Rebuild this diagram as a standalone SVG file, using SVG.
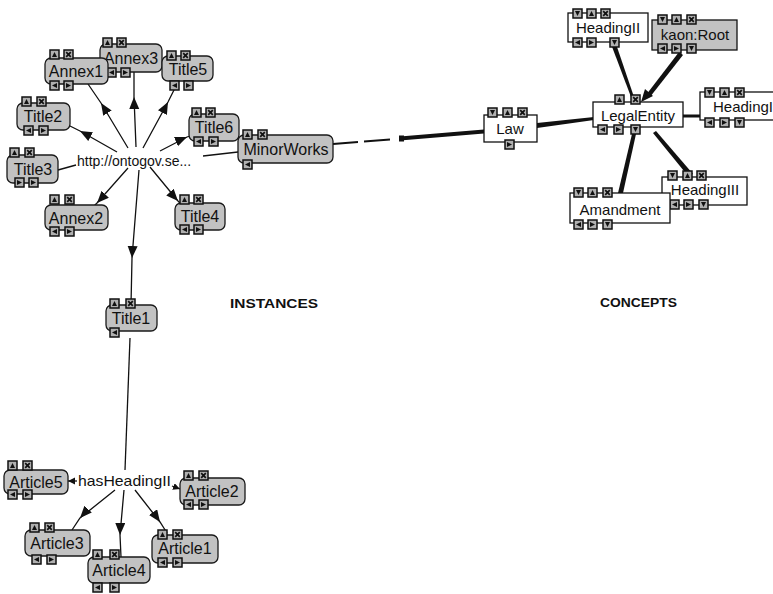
<svg xmlns="http://www.w3.org/2000/svg" width="773" height="594" viewBox="0 0 773 594">
<style>
.bg{fill:#ffffff}
.inst{fill:#c2c2c2;stroke:#1a1a1a;stroke-width:1.3}
.conc{fill:#ffffff;stroke:#111;stroke-width:1.3}
.concg{fill:#c2c2c2;stroke:#111;stroke-width:1.3}
.lbl{font-family:"Liberation Sans",Arial,sans-serif;font-size:16px;fill:#111;text-anchor:middle}
.clbl{font-family:"Liberation Sans",Arial,sans-serif;font-size:15px;fill:#111;text-anchor:middle}
.free{font-family:"Liberation Sans",Arial,sans-serif;font-size:14px;fill:#111}
.title{font-family:"Liberation Sans",Arial,sans-serif;font-size:12px;font-weight:bold;fill:#111}
.edge{stroke:#111;stroke-width:1.3;fill:none}
.thick{stroke:#111;stroke-width:3;fill:none;stroke-linecap:round}
.ib{fill:#b0b0b0;stroke:#111;stroke-width:1.5}
.ig{fill:#111}
</style>
<defs>
<marker id="ah" markerUnits="userSpaceOnUse" markerWidth="13" markerHeight="11" refX="12" refY="5" orient="auto">
<path d="M0,0 L12,5 L0,10 z" fill="#111"/>
</marker>
<marker id="ahs" markerUnits="userSpaceOnUse" markerWidth="8" markerHeight="8" refX="7" refY="3.5" orient="auto">
<path d="M0,0 L7,3.5 L0,7 z" fill="#111"/>
</marker>
<symbol id="i-up" overflow="visible"><rect class="ib" x="0" y="0" width="9" height="9"/><path class="ig" d="M2,7 L4.5,2 L7,7 z"/></symbol>
<symbol id="i-x" overflow="visible"><rect class="ib" x="0" y="0" width="9" height="9"/><path d="M2.2,2.2 L6.8,6.8 M6.8,2.2 L2.2,6.8" stroke="#111" stroke-width="1.7"/></symbol>
<symbol id="i-l" overflow="visible"><rect class="ib" x="0" y="0" width="9" height="9"/><path class="ig" d="M7,2 L2,4.5 L7,7 z"/></symbol>
<symbol id="i-r" overflow="visible"><rect class="ib" x="0" y="0" width="9" height="9"/><path class="ig" d="M2,2 L7,4.5 L2,7 z"/></symbol>
<symbol id="i-dn" overflow="visible"><rect class="ib" x="0" y="0" width="9" height="9"/><path class="ig" d="M2,2 L4.5,7 L7,2 z"/></symbol>
</defs>
<rect class="bg" x="0" y="0" width="773" height="594"/>

<g id="connectors">
<!-- instance hub -->
<polyline class="edge" points="128,148 101,103 88,84" marker-mid="url(#ah)"/>
<polyline class="edge" points="136,147 134,97 134,72" marker-mid="url(#ah)"/>
<polyline class="edge" points="143,148 168,102 178,82" marker-mid="url(#ah)"/>
<polyline class="edge" points="117,152 80,131 68,125" marker-mid="url(#ah)"/>
<polyline class="edge" points="160,151 187,137 190,136" marker-mid="url(#ah)"/>
<line class="edge" x1="58" y1="170" x2="76" y2="165"/>
<line class="edge" x1="203" y1="156" x2="238" y2="152"/>
<polyline class="edge" points="128,168 97,203 93,207" marker-mid="url(#ah)"/>
<polyline class="edge" points="150,167 178,201 180,203" marker-mid="url(#ah)"/>
<polyline class="edge" points="139,170 132,258 131,305" marker-mid="url(#ah)"/>
<line class="edge" x1="130" y1="338" x2="125" y2="470"/>
<!-- hasHeadingII -->
<line class="edge" x1="77" y1="481" x2="68" y2="481" marker-end="url(#ahs)"/>
<line class="edge" x1="172" y1="486" x2="180" y2="489" marker-end="url(#ahs)"/>
<polyline class="edge" points="115,490 80,518 72,530" marker-mid="url(#ah)"/>
<polyline class="edge" points="124,490 120,535 121,557" marker-mid="url(#ah)"/>
<polyline class="edge" points="135,490 160,522 167,533" marker-mid="url(#ah)"/>
<!-- MinorWorks to Law -->
<path d="M333,144 L358,142 M364,141.5 L390,139.5" stroke="#111" stroke-width="1.8" fill="none"/>
<path d="M400,136.5 L484,129.5 L484,133.5 L400,140.5 z" fill="#111"/>
<rect x="399" y="135.5" width="5" height="6" fill="#111"/>
<!-- concepts -->
<path d="M537,123 L594,117 L594,120 L537,128 z" fill="#111"/>
<path d="M611,44 L616,44 L634,97 L631,97 z" fill="#111"/>
<path d="M679,52 L683,55 L650,97 L646,95 z" fill="#111"/>
<path d="M641,102 L645,89 L653,96 z" fill="#111"/>
<line class="thick" x1="683" y1="116" x2="700" y2="116"/>
<path d="M632,134 L636,134 L623,193 L618,193 z" fill="#111"/>
<path d="M653,133 L656,131 L693,174 L688,176 z" fill="#111"/>
</g>

<g id="node-annex3">
<rect class="inst" x="100" y="44" width="62" height="28" rx="6"/>
<use href="#i-up" x="103" y="38"/><use href="#i-x" x="117" y="38"/>
<use href="#i-l" x="107" y="68"/><use href="#i-r" x="121" y="68"/>
<text class="lbl" x="131" y="64">Annex3</text>
</g>
<g id="node-annex1">
<rect class="inst" x="45" y="58" width="63" height="26" rx="6"/>
<use href="#i-up" x="50" y="50"/><use href="#i-x" x="64" y="50"/>
<use href="#i-l" x="50" y="81"/><use href="#i-r" x="64" y="81"/>
<text class="lbl" x="76" y="77">Annex1</text>
</g>
<g id="node-title5">
<rect class="inst" x="162" y="56" width="51" height="25" rx="6"/>
<use href="#i-up" x="167" y="51"/><use href="#i-x" x="181" y="51"/>
<use href="#i-l" x="170" y="81"/><use href="#i-r" x="184" y="81"/>
<text class="lbl" x="188" y="75">Title5</text>
</g>
<g id="node-title2">
<rect class="inst" x="17" y="103" width="53" height="27" rx="6"/>
<use href="#i-up" x="22" y="97"/><use href="#i-x" x="37" y="97"/>
<use href="#i-l" x="24" y="126"/><use href="#i-r" x="39" y="126"/>
<text class="lbl" x="43" y="122">Title2</text>
</g>
<g id="node-title3">
<rect class="inst" x="7" y="155" width="51" height="28" rx="6"/>
<use href="#i-up" x="10" y="148"/><use href="#i-x" x="25" y="148"/>
<use href="#i-r" x="15" y="178"/><use href="#i-r" x="29" y="178"/>
<text class="lbl" x="33" y="175">Title3</text>
</g>
<g id="node-title6">
<rect class="inst" x="189" y="114" width="50" height="27" rx="6"/>
<use href="#i-up" x="192" y="108"/><use href="#i-x" x="206" y="108"/>
<use href="#i-l" x="194" y="137"/><use href="#i-r" x="209" y="137"/>
<text class="lbl" x="214" y="133">Title6</text>
</g>
<g id="node-minorworks">
<rect class="inst" x="238" y="135" width="95" height="28" rx="6"/>
<use href="#i-up" x="243" y="130"/><use href="#i-x" x="258" y="130"/>
<use href="#i-l" x="243" y="160"/>
<text class="lbl" x="286" y="155">MinorWorks</text>
</g>
<g id="node-annex2">
<rect class="inst" x="45" y="205" width="63" height="25" rx="6"/>
<use href="#i-up" x="50" y="195"/><use href="#i-x" x="65" y="195"/>
<use href="#i-l" x="50" y="227"/><use href="#i-r" x="65" y="227"/>
<text class="lbl" x="76" y="224">Annex2</text>
</g>
<g id="node-title4">
<rect class="inst" x="175" y="203" width="50" height="27" rx="6"/>
<use href="#i-up" x="180" y="195"/><use href="#i-x" x="194" y="195"/>
<use href="#i-l" x="180" y="225"/><use href="#i-r" x="194" y="225"/>
<text class="lbl" x="200" y="222">Title4</text>
</g>
<g id="node-http">
<text class="free" x="77" y="166">http://ontogov.se...</text>
</g>
<g id="node-title1">
<rect class="inst" x="106" y="305" width="51" height="26" rx="6"/>
<use href="#i-up" x="110" y="299"/><use href="#i-x" x="126" y="299"/>
<use href="#i-l" x="110" y="328"/>
<text class="lbl" x="131" y="324">Title1</text>
</g>
<g id="node-hasheading">
<text class="free" x="78" y="486" style="font-size:15px" textLength="93" lengthAdjust="spacingAndGlyphs">hasHeadingII</text>
</g>
<g id="node-article5">
<rect class="inst" x="4" y="470" width="64" height="24" rx="6"/>
<use href="#i-up" x="8" y="461"/><use href="#i-x" x="23" y="461"/>
<use href="#i-l" x="8" y="490"/><use href="#i-r" x="23" y="490"/>
<text class="lbl" x="36" y="488">Article5</text>
</g>
<g id="node-article2">
<rect class="inst" x="180" y="478" width="65" height="27" rx="6"/>
<use href="#i-up" x="184" y="471"/><use href="#i-x" x="199" y="471"/>
<use href="#i-l" x="184" y="500"/><use href="#i-r" x="199" y="500"/>
<text class="lbl" x="212" y="497">Article2</text>
</g>
<g id="node-article3">
<rect class="inst" x="25" y="530" width="65" height="26" rx="6"/>
<use href="#i-up" x="30" y="523"/><use href="#i-x" x="45" y="523"/>
<use href="#i-l" x="32" y="555"/><use href="#i-r" x="47" y="555"/>
<text class="lbl" x="57" y="549">Article3</text>
</g>
<g id="node-article4">
<rect class="inst" x="88" y="557" width="62" height="26" rx="6"/>
<use href="#i-up" x="93" y="550"/><use href="#i-x" x="110" y="550"/>
<use href="#i-l" x="93" y="583"/><use href="#i-r" x="110" y="583"/>
<text class="lbl" x="119" y="576">Article4</text>
</g>
<g id="node-article1">
<rect class="inst" x="152" y="535" width="66" height="28" rx="6"/>
<use href="#i-up" x="158" y="530"/><use href="#i-x" x="173" y="530"/>
<use href="#i-l" x="158" y="558"/><use href="#i-r" x="173" y="558"/>
<text class="lbl" x="185" y="554">Article1</text>
</g>

<g id="node-headingii">
<rect class="conc" x="568" y="13" width="80" height="29"/>
<use href="#i-dn" x="573" y="9"/><use href="#i-up" x="587" y="9"/><use href="#i-x" x="601" y="9"/>
<use href="#i-l" x="573" y="38"/><use href="#i-r" x="587" y="38"/><use href="#i-dn" x="610" y="38"/>
<text class="clbl" x="608" y="33">HeadingII</text>
</g>
<g id="node-kaonroot">
<rect class="concg" x="652" y="20" width="85" height="30"/>
<use href="#i-dn" x="658" y="15"/><use href="#i-up" x="672" y="15"/><use href="#i-x" x="687" y="15"/>
<use href="#i-l" x="658" y="44"/><use href="#i-r" x="672" y="44"/><use href="#i-dn" x="687" y="44"/>
<text class="clbl" x="695" y="40">kaon:Root</text>
</g>
<g id="node-law">
<rect class="conc" x="484" y="115" width="53" height="27"/>
<use href="#i-dn" x="488" y="108"/><use href="#i-up" x="503" y="108"/><use href="#i-x" x="518" y="108"/>
<use href="#i-r" x="505" y="140"/>
<text class="clbl" x="510" y="134">Law</text>
</g>
<g id="node-legalentity">
<rect class="conc" x="593" y="102" width="90" height="25"/>
<use href="#i-up" x="615" y="95"/><use href="#i-x" x="631" y="95"/>
<use href="#i-l" x="598" y="125"/><use href="#i-r" x="614" y="125"/><use href="#i-dn" x="631" y="125"/>
<text class="clbl" x="638" y="121">LegalEntity</text>
</g>
<g id="node-headingi">
<rect class="conc" x="700" y="92" width="80" height="28"/>
<use href="#i-dn" x="705" y="88"/><use href="#i-up" x="720" y="88"/><use href="#i-x" x="735" y="88"/>
<use href="#i-l" x="705" y="118"/><use href="#i-r" x="720" y="118"/><use href="#i-dn" x="735" y="118"/>
<text class="clbl" x="743" y="112">HeadingI</text>
</g>
<g id="node-headingiii">
<rect class="conc" x="662" y="177" width="85" height="28"/>
<use href="#i-dn" x="668" y="171"/><use href="#i-up" x="683" y="171"/><use href="#i-x" x="697" y="171"/>
<use href="#i-l" x="670" y="200"/><use href="#i-r" x="684" y="200"/><use href="#i-dn" x="699" y="200"/>
<text class="clbl" x="705" y="195">HeadingIII</text>
</g>
<g id="node-amandment">
<rect class="conc" x="570" y="193" width="100" height="30"/>
<use href="#i-dn" x="574" y="188"/><use href="#i-up" x="588" y="188"/><use href="#i-x" x="603" y="188"/>
<use href="#i-l" x="574" y="220"/><use href="#i-r" x="588" y="220"/><use href="#i-dn" x="603" y="220"/>
<text class="clbl" x="620" y="215">Amandment</text>
</g>

<g id="labels">
<text class="title" x="230" y="308" textLength="88" lengthAdjust="spacingAndGlyphs">INSTANCES</text>
<text class="title" x="600" y="307" textLength="77" lengthAdjust="spacingAndGlyphs">CONCEPTS</text>
</g>
</svg>
